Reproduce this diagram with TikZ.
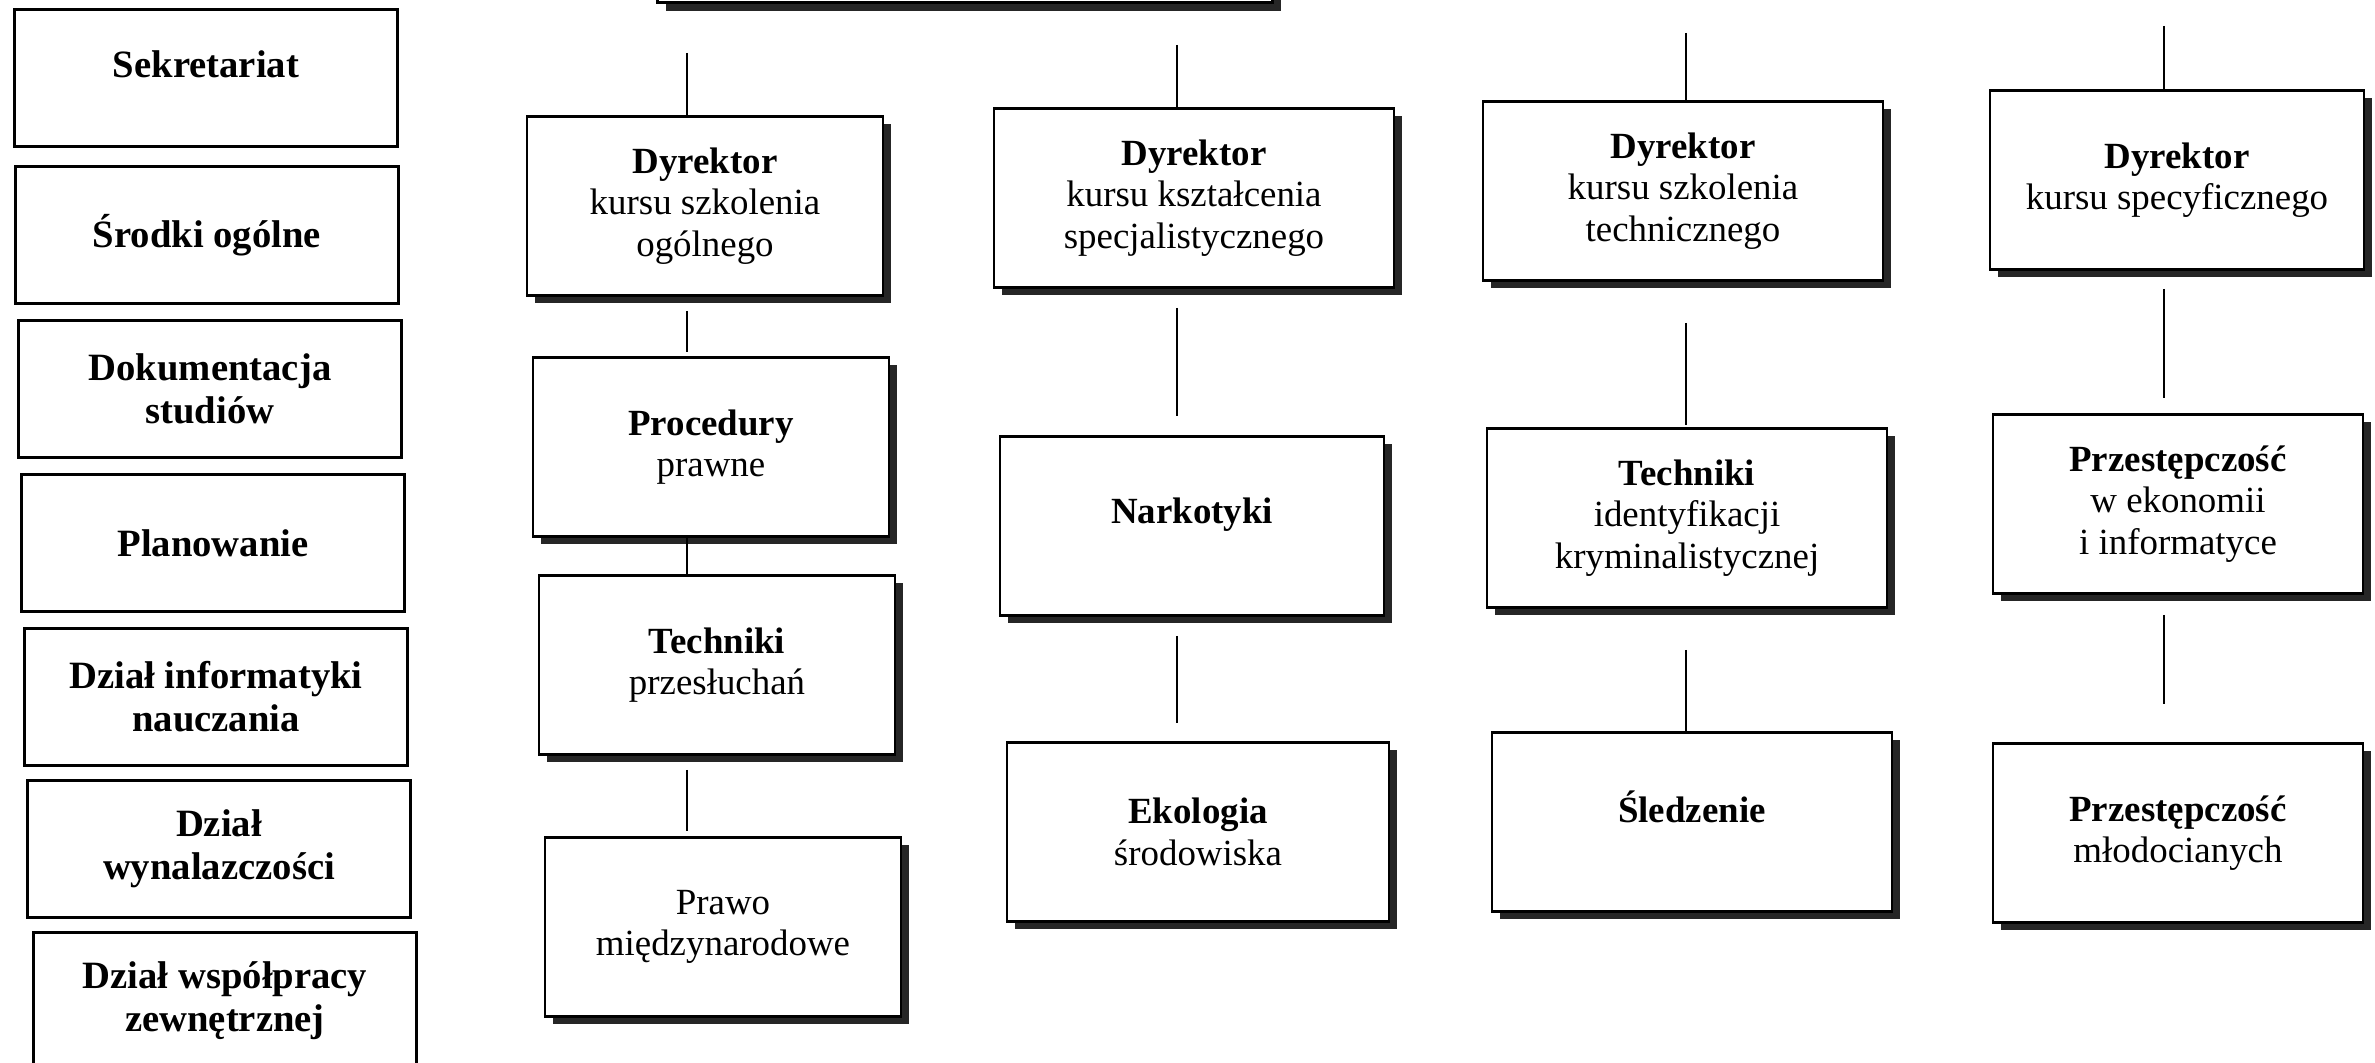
\documentclass[tikz,border=0pt]{standalone}
\usepackage{fontspec}
\setmainfont{Liberation Serif}
\usetikzlibrary{shadows}

\tikzset{
  unit/.style={draw, line width=0.8pt, minimum width=3.83cm, minimum height=1.37cm,
    align=center, font=\fontsize{11}{12.2}\selectfont\bfseries},
  course/.style={draw, fill=white, line width=0.8pt, minimum height=1.79cm, align=center,
    drop shadow={shadow xshift=0.08cm, shadow yshift=-0.08cm, fill=black!85, opacity=1}},
  link/.style={line width=0.8pt},
}

\begin{document}
\begin{tikzpicture}[font=\fontsize{10.5}{11.8}\selectfont]
\useasboundingbox (0,0) rectangle (23.75,-10.63);

% left column
\node[unit, text depth=0.28cm] (A) at (2.06, -0.78) {Sekretariat};
\node[unit] (B) at (2.07, -2.35) {Środki ogólne};
\node[unit] (C) at (2.10, -3.89) {Dokumentacja\\studiów};
\node[unit] (D) at (2.13, -5.43) {Planowanie};
\node[unit] (E) at (2.16, -6.97) {Dział informatyki\\nauczania};
\node[unit] (F) at (2.19, -8.49) {Dział\\wynalazczości};
\node[unit] (G) at (2.25, -10.01) {Dział współpracy\\zewnętrznej};

% box above, cut off by the page
\node[course, minimum width=6.15cm, anchor=south] (T) at (9.65, -0.04) {};

% courses
\node[course, minimum width=3.56cm] (H) at (7.05, -2.06) {\textbf{Dyrektor}\\kursu szkolenia\\ogólnego};
\node[course, minimum width=3.56cm] (I) at (7.11, -4.47) {\textbf{Procedury}\\prawne};
\node[course, minimum width=3.56cm] (J) at (7.17, -6.65) {\textbf{Techniki}\\przesłuchań};
\node[course, minimum width=3.56cm] (K) at (7.23, -9.27) {Prawo\\międzynarodowe};

\node[course, minimum width=4.0cm] (L) at (11.94, -1.98) {\textbf{Dyrektor}\\kursu kształcenia\\specjalistycznego};
\node[course, minimum width=3.84cm, text depth=0.31cm] (M) at (11.92, -5.26) {\textbf{Narkotyki}};
\node[course, minimum width=3.82cm] (N) at (11.98, -8.32) {\textbf{Ekologia}\\środowiska};

\node[course, minimum width=4.0cm] (O) at (16.83, -1.91) {\textbf{Dyrektor}\\kursu szkolenia\\technicznego};
\node[course, minimum width=4.0cm] (P) at (16.87, -5.18) {\textbf{Techniki}\\identyfikacji\\kryminalistycznej};
\node[course, minimum width=4.0cm, text depth=0.3cm] (Q) at (16.92, -8.22) {\textbf{Śledzenie}};

\node[course, minimum width=3.74cm] (R) at (21.77, -1.80) {\textbf{Dyrektor}\\kursu specyficznego};
\node[course, minimum width=3.70cm] (S) at (21.78, -5.04) {\textbf{Przestępczość}\\w ekonomii\\i informatyce};
\node[course, minimum width=3.70cm] (U) at (21.78, -8.33) {\textbf{Przestępczość}\\młodocianych};

% line stubs
\coordinate (k1) at (6.87, -0.53);
\coordinate (k2) at (11.77, -0.45);
\coordinate (k3) at (16.86, -0.33);
\coordinate (k4) at (21.64, -0.26);

\draw[link] (k1) -- (H.north -| k1);
\draw[link, shorten <=1.4mm, shorten >=0.4mm] (H.south -| k1) -- (I.north -| k1);
\draw[link] (I.south -| k1) -- (J.north -| k1);
\draw[link, shorten <=1.4mm, shorten >=0.5mm] (J.south -| k1) -- (K.north -| k1);

\draw[link] (k2) -- (L.north -| k2);
\draw[link, shorten <=1.9mm, shorten >=1.9mm] (L.south -| k2) -- (M.north -| k2);
\draw[link, shorten <=1.9mm, shorten >=1.8mm] (M.south -| k2) -- (N.north -| k2);

\draw[link] (k3) -- (O.north -| k3);
\draw[link, shorten <=4.1mm, shorten >=0.2mm] (O.south -| k3) -- (P.north -| k3);
\draw[link, shorten <=4.1mm] (P.south -| k3) -- (Q.north -| k3);

\draw[link] (k4) -- (R.north -| k4);
\draw[link, shorten <=1.8mm, shorten >=1.5mm] (R.south -| k4) -- (S.north -| k4);
\draw[link, shorten <=2.0mm, shorten >=3.8mm] (S.south -| k4) -- (U.north -| k4);
\end{tikzpicture}
\end{document}
